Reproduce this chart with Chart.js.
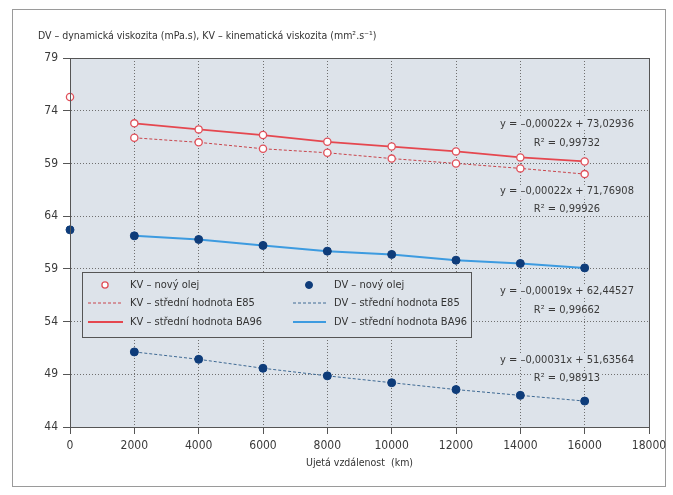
<!DOCTYPE html>
<html lang="cs">
<head>
<meta charset="utf-8">
<title>Viskozita oleje</title>
<script src="https://cdn.jsdelivr.net/npm/chart.js@4.4.1/dist/chart.umd.min.js"></script>
<style>
  html, body { margin: 0; padding: 0; background: #ffffff; }
  #wrap { width: 673px; height: 495px; }
</style>
</head>
<body>
<div id="wrap"><canvas id="viskozita" width="673" height="495"></canvas></div>
<script>
// --- data ---
const distances = [2000, 4000, 6000, 8000, 10000, 12000, 14000, 16000];
const newOilKm = [0];
const kvNewOil = [75.3];
const dvNewOil = [62.7];
const kvE85 = [71.43, 71.0, 70.39, 70.01, 69.46, 69.0, 68.53, 67.99];
const kvBA96 = [72.8, 72.23, 71.69, 71.05, 70.6, 70.14, 69.57, 69.19];
const dvE85 = [51.12, 50.42, 49.57, 48.85, 48.2, 47.55, 47.0, 46.46];
const dvBA96 = [62.13, 61.79, 61.22, 60.68, 60.37, 59.82, 59.51, 59.09];

const yTicks = [44, 49, 54, 59, 64, 69, 74, 79];
const yTickLabels = ['44', '49', '54', '59', '64', '59', '74', '79'];

const chartTitle = 'DV – dynamická viskozita (mPa.s), KV – kinematická viskozita (mm².s⁻¹)';
const xTitle = 'Ujetá vzdálenost  (km)';

const trendTexts = [
    ['y = –0,00022x + 73,02936', 'R² = 0,99732'],
    ['y = –0,00022x + 71,76908', 'R² = 0,99926'],
    ['y = –0,00019x + 62,44527', 'R² = 0,99662'],
    ['y = –0,00031x + 51,63564', 'R² = 0,98913']
];

// ============================================
// STYLES
// ============================================
const FONT = "'Liberation Sans Narrow', 'DejaVu Sans Condensed', 'Liberation Sans', sans-serif";
const PLOT_BG = '#dde3ea';
const RED = '#e5474f';
const RED_DASH = '#c8454c';
const BLUE = '#3d9be0';
const BLUE_DASH = '#3f6a94';
const NAVY = '#0e3c7a';

function pts(xs, ys) {
    return xs.map((x, i) => ({ x: x, y: ys[i] }));
}

const kvPoint = {
    clip: false,
    pointStyle: 'circle',
    pointRadius: 3.6,
    pointBackgroundColor: '#ffffff',
    pointBorderColor: '#e0505a',
    pointBorderWidth: 1.3
};
const dvPoint = {
    clip: false,
    pointStyle: 'circle',
    pointRadius: 4,
    pointBackgroundColor: NAVY,
    pointBorderColor: NAVY,
    pointBorderWidth: 1
};

const datasets = [
    Object.assign({ label: 'KV – střední hodnota BA96', data: pts(distances, kvBA96), showLine: true,
        borderColor: RED, borderWidth: 1.8 }, kvPoint),
    Object.assign({ label: 'KV – střední hodnota E85', data: pts(distances, kvE85), showLine: true,
        borderColor: RED_DASH, borderWidth: 1, borderDash: [3, 2] }, kvPoint),
    Object.assign({ label: 'KV – nový olej', data: pts(newOilKm, kvNewOil), showLine: false }, kvPoint),
    Object.assign({ label: 'DV – střední hodnota BA96', data: pts(distances, dvBA96), showLine: true,
        borderColor: BLUE, borderWidth: 2 }, dvPoint),
    Object.assign({ label: 'DV – střední hodnota E85', data: pts(distances, dvE85), showLine: true,
        borderColor: BLUE_DASH, borderWidth: 1, borderDash: [3, 2] }, dvPoint),
    Object.assign({ label: 'DV – nový olej', data: pts(newOilKm, dvNewOil), showLine: false }, dvPoint)
];

// where the regression texts sit (data coordinates of the text centre)
const trendAnchors = [
    { x: 15450, y: [72.73, 70.93] },
    { x: 15450, y: [66.4, 64.66] },
    { x: 15450, y: [56.9, 55.07] },
    { x: 15450, y: [50.33, 48.62] }
];

// ============================================
// DECORATION PLUGIN (frame, plot bg, texts, legend)
// ============================================
const decor = {
    id: 'decor',
    beforeDraw(chart) {
        const ctx = chart.ctx;
        const a = chart.chartArea;
        ctx.save();
        ctx.fillStyle = '#ffffff';
        ctx.fillRect(0, 0, chart.width, chart.height);
        ctx.strokeStyle = '#9a9a9a';
        ctx.lineWidth = 1;
        ctx.strokeRect(12.5, 9.5, 653, 477);
        ctx.fillStyle = PLOT_BG;
        ctx.fillRect(a.left, a.top, a.right - a.left, a.bottom - a.top);
        ctx.restore();
    },
    afterDraw(chart) {
        const ctx = chart.ctx;
        const a = chart.chartArea;
        const xs = chart.scales.x;
        const ys = chart.scales.y;
        ctx.save();

        // plot frame
        ctx.strokeStyle = '#555555';
        ctx.lineWidth = 1;
        ctx.setLineDash([]);
        ctx.strokeRect(Math.round(a.left) + 0.5, Math.round(a.top) + 0.5,
            Math.round(a.right - a.left), Math.round(a.bottom - a.top));

        // chart title
        ctx.fillStyle = '#333333';
        ctx.font = '10.5px ' + FONT;
        ctx.textAlign = 'left';
        ctx.textBaseline = 'middle';
        ctx.fillText(chartTitle, 38, 36);

        // x axis title
        ctx.font = '10.5px ' + FONT;
        ctx.textAlign = 'center';
        ctx.fillText(xTitle, (a.left + a.right) / 2, 463);

        // regression texts
        ctx.font = '11px ' + FONT;
        trendTexts.forEach((pair, i) => {
            const cx = xs.getPixelForValue(trendAnchors[i].x);
            pair.forEach((txt, j) => {
                const cy = ys.getPixelForValue(trendAnchors[i].y[j]);
                const w = ctx.measureText(txt).width;
                ctx.fillStyle = PLOT_BG;
                ctx.fillRect(cx - w / 2 - 2, cy - 6, w + 4, 12);
                ctx.fillStyle = '#3a3a3a';
                ctx.fillText(txt, cx, cy);
            });
        });

        // legend box
        const lx = 82, ly = 272, lw = 389, lh = 65;
        ctx.fillStyle = PLOT_BG;
        ctx.fillRect(lx, ly, lw, lh);
        ctx.strokeStyle = '#555555';
        ctx.strokeRect(lx + 0.5, ly + 0.5, lw, lh);

        const cols = [
            { sym: 105, line: [88, 123], text: 130, items: [datasets[2], datasets[1], datasets[0]] },
            { sym: 309, line: [293, 326], text: 334, items: [datasets[5], datasets[4], datasets[3]] }
        ];
        const rows = [285, 303, 322];
        ctx.font = '11px ' + FONT;
        ctx.textAlign = 'left';
        cols.forEach(col => {
            col.items.forEach((ds, r) => {
                const y = rows[r];
                if (ds.showLine) {
                    ctx.strokeStyle = ds.borderColor;
                    ctx.lineWidth = ds.borderWidth;
                    ctx.setLineDash(ds.borderDash || []);
                    ctx.beginPath();
                    ctx.moveTo(col.line[0], y);
                    ctx.lineTo(col.line[1], y);
                    ctx.stroke();
                    ctx.setLineDash([]);
                } else {
                    ctx.beginPath();
                    ctx.arc(col.sym, y, ds.pointRadius - 0.5, 0, Math.PI * 2);
                    ctx.fillStyle = ds.pointBackgroundColor;
                    ctx.fill();
                    ctx.lineWidth = ds.pointBorderWidth;
                    ctx.strokeStyle = ds.pointBorderColor;
                    ctx.stroke();
                }
                ctx.fillStyle = '#333333';
                ctx.fillText(ds.label, col.text, y);
            });
        });
        ctx.restore();
    }
};

// ============================================
// CHART
// ============================================
const tickFont = { family: FONT, size: 12 };

new Chart(document.getElementById('viskozita'), {
    type: 'scatter',
    data: { datasets: datasets },
    options: {
        responsive: false,
        animation: false,
        devicePixelRatio: 1,
        layout: { padding: { top: 58, right: 24, left: 0, bottom: 0 } },
        plugins: {
            legend: { display: false },
            tooltip: { enabled: false }
        },
        scales: {
            x: {
                type: 'linear',
                min: 0,
                max: 18000,
                afterFit: (scale) => { scale.height = 68; },
                ticks: {
                    stepSize: 2000,
                    font: tickFont,
                    color: '#3a3a3a',
                    padding: 5,
                    maxRotation: 0,
                    callback: (v) => String(v)
                },
                grid: { color: '#6f6f6f', tickLength: 7, tickColor: '#555555' },
                border: { display: true, color: '#555555', dash: [1, 2] }
            },
            y: {
                type: 'linear',
                min: 44,
                max: 79,
                afterFit: (scale) => { scale.width = 70; },
                afterBuildTicks: (scale) => { scale.ticks = yTicks.map(v => ({ value: v })); },
                ticks: {
                    font: tickFont,
                    color: '#3a3a3a',
                    padding: 5,
                    callback: (v) => yTickLabels[yTicks.indexOf(v)]
                },
                grid: { color: '#6f6f6f', tickLength: 7, tickColor: '#555555' },
                border: { display: true, color: '#555555', dash: [1, 2] }
            }
        }
    },
    plugins: [decor]
});
</script>
</body>
</html>
